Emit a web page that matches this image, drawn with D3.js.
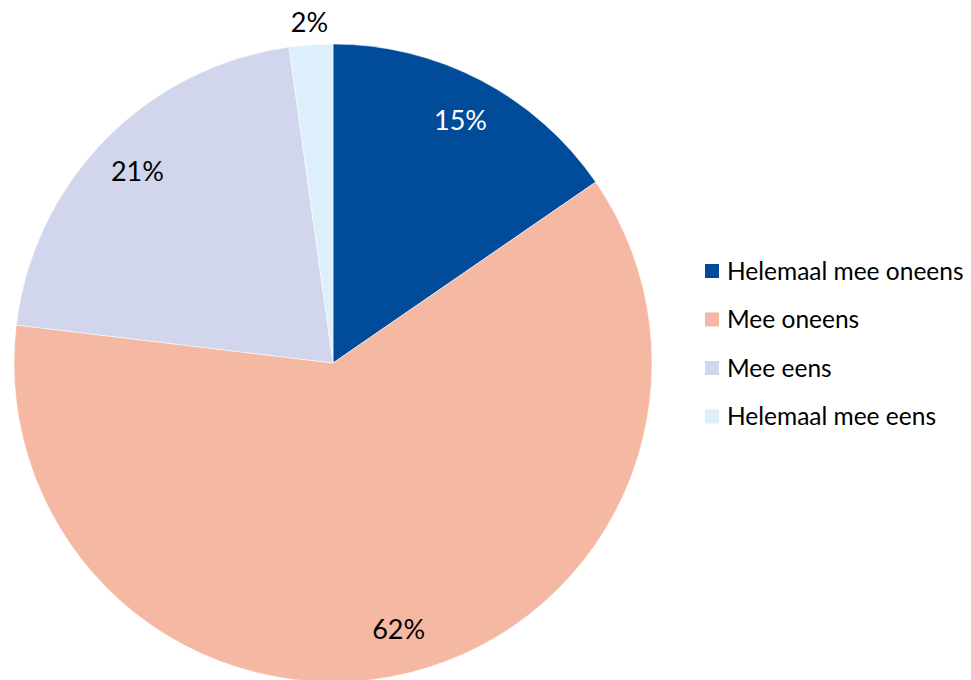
<!DOCTYPE html>
<html>
<head>
<meta charset="utf-8">
<script src="https://cdn.jsdelivr.net/npm/d3@7"></script>
<style>
  body { margin: 0; background: #fff; }
  text { font-family: Lato, "Open Sans", sans-serif; }
</style>
</head>
<body>
<svg id="chart" width="971" height="680"></svg>
<script>
var categories = ["Helemaal mee oneens", "Mee oneens", "Mee eens", "Helemaal mee eens"];
var values = [15.4, 61.5, 20.9, 2.2];
var colors = ["#004c9b", "#f5b8a2", "#d2d6ec", "#ddeffb"];
var labelColors = ["#ffffff", "#000000", "#000000", "#000000"];

var svg = d3.select("#chart");
var cx = 333, cy = 363, radius = 319;

var color = d3.scaleOrdinal().domain(categories).range(colors);

var pie = d3.pie().sort(null).value(d => d.value);
var data = categories.map((c, i) => ({ name: c, value: values[i], i: i }));
var arcs = pie(data);

var arc = d3.arc().innerRadius(0).outerRadius(radius);
var labelArc = d3.arc().innerRadius(274).outerRadius(274);
var outerLabelArc = d3.arc().innerRadius(342).outerRadius(342);

var g = svg.append("g").attr("transform", `translate(${cx}, ${cy})`);

g.selectAll("path")
  .data(arcs)
  .enter().append("path")
    .attr("d", arc)
    .attr("fill", d => color(d.data.name))
    .attr("stroke", "#fff")
    .attr("stroke-width", 0.5);

// percentage labels, small slice goes outside
g.selectAll("text.pct")
  .data(arcs)
  .enter().append("text")
    .attr("class", "pct")
    .attr("transform", d => {
      var p = d.data.value < 5 ? outerLabelArc.centroid(d) : labelArc.centroid(d);
      return `translate(${p[0]}, ${p[1]})`;
    })
    .attr("text-anchor", "middle")
    .attr("dy", "0.36em")
    .style("font-size", "27px")
    .attr("fill", d => labelColors[d.data.i])
    .text(d => Math.round(d.data.value) + "%");

// legend
var legend = svg.append("g").attr("transform", "translate(705, 271)");
var rows = legend.selectAll("g")
  .data(categories)
  .enter().append("g")
    .attr("transform", (d, i) => `translate(0, ${i * 48.5})`);

rows.append("rect")
  .attr("x", 0).attr("y", -7)
  .attr("width", 14).attr("height", 14)
  .attr("fill", d => color(d));

rows.append("text")
  .attr("x", 22)
  .attr("dy", "0.36em")
  .style("font-size", "24.5px")
  .attr("fill", "#000")
  .text(d => d);
</script>
</body>
</html>
